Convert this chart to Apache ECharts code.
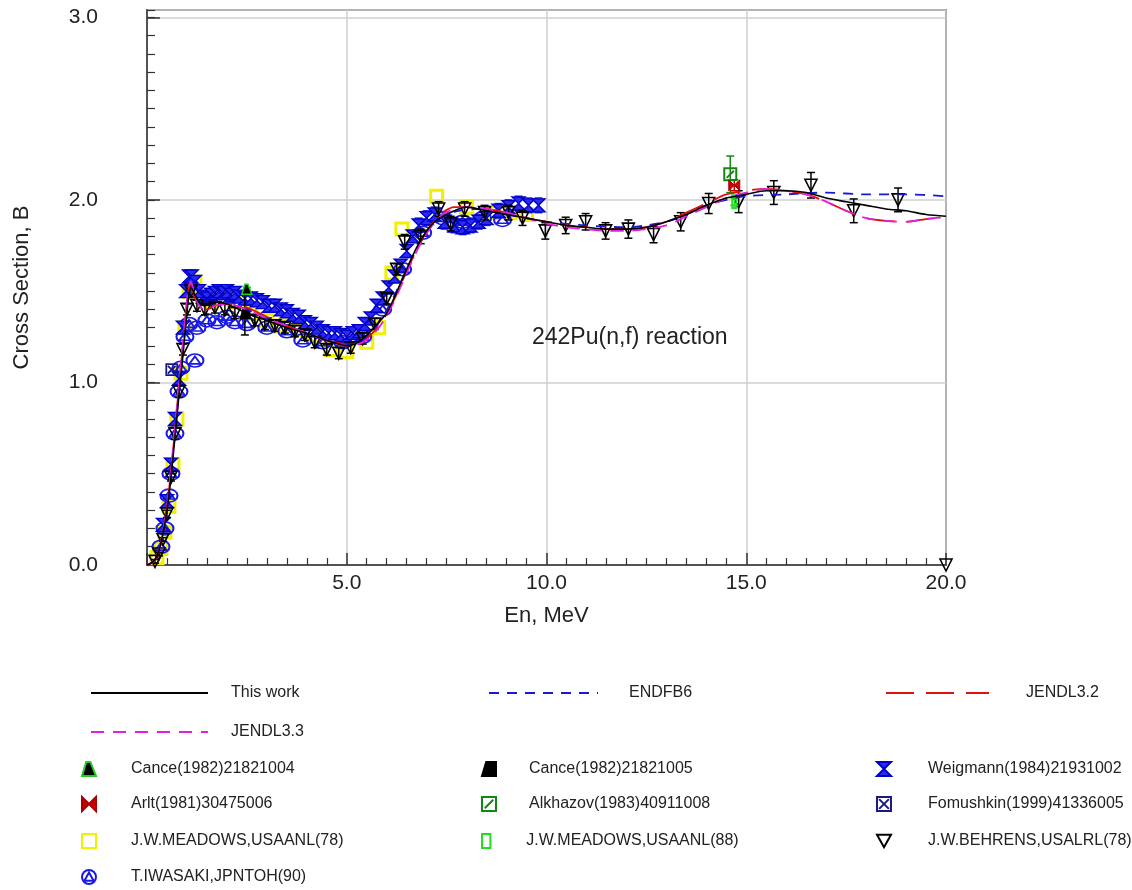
<!DOCTYPE html>
<html><head><meta charset="utf-8">
<script src="https://cdn.jsdelivr.net/npm/echarts/dist/echarts.min.js"></script>
<style>html,body{margin:0;padding:0;background:#fff}#c{width:1132px;height:890px}</style>
</head><body><div id="c"></div><script>
const F = 'Liberation Sans, Arial, sans-serif';
// Evaluated curves
const thisWorkE  = [0,0.1,0.2,0.3,0.4,0.5,0.6,0.7,0.8,0.9,1.0,1.05,1.1,1.2,1.3,1.45,1.6,1.8,2.0,2.3,2.6,3.0,3.5,4.0,4.5,4.8,5.0,5.2,5.4,5.6,5.8,6.0,6.2,6.4,6.6,6.8,7.0,7.2,7.5,7.8,8.0,8.5,9.0,9.5,10,10.5,11,11.5,12,12.5,13,13.5,14,14.5,15,15.5,16,16.5,17,17.5,18,18.5,19,19.5,20];
const thisWorkXS = [0,0.01,0.03,0.08,0.17,0.30,0.48,0.70,0.93,1.15,1.38,1.48,1.52,1.48,1.44,1.42,1.43,1.44,1.43,1.40,1.37,1.34,1.30,1.27,1.23,1.21,1.20,1.21,1.24,1.28,1.33,1.38,1.47,1.57,1.67,1.76,1.83,1.88,1.92,1.95,1.96,1.94,1.92,1.90,1.88,1.86,1.85,1.84,1.84,1.85,1.88,1.92,1.97,2.01,2.03,2.05,2.05,2.04,2.01,1.99,1.97,1.95,1.94,1.92,1.91];
const endfb6E  = [0,0.1,0.2,0.3,0.4,0.5,0.6,0.7,0.8,0.9,1.0,1.1,1.2,1.35,1.5,1.7,2.0,2.5,3.0,3.5,4.0,4.5,5.0,5.3,5.6,5.9,6.2,6.5,6.8,7.1,7.4,7.8,8.2,8.6,9.0,9.5,10,11,12,12.5,13,13.5,14,14.5,15,16,17,18,19,20];
const endfb6XS = [0,0.01,0.03,0.08,0.17,0.31,0.50,0.72,0.95,1.18,1.40,1.50,1.48,1.43,1.42,1.44,1.44,1.40,1.35,1.31,1.27,1.23,1.21,1.22,1.27,1.36,1.48,1.62,1.75,1.85,1.91,1.94,1.95,1.94,1.92,1.90,1.88,1.86,1.85,1.86,1.88,1.92,1.97,2.00,2.02,2.03,2.04,2.03,2.03,2.02];
const jendl33E  = [0,0.1,0.2,0.3,0.4,0.5,0.6,0.7,0.8,0.9,1.0,1.05,1.1,1.2,1.35,1.5,1.7,2.0,2.5,3.0,3.5,4.0,4.5,5.0,5.3,5.6,5.9,6.2,6.5,6.8,7.1,7.4,7.7,8.0,8.5,9.0,9.5,10,10.5,11,11.5,12,12.5,13,13.5,14,14.5,15,15.5,16,16.5,17,17.5,18,18.5,19,19.5,20];
const jendl33XS = [0,0.01,0.03,0.08,0.18,0.32,0.52,0.75,0.99,1.22,1.45,1.53,1.55,1.47,1.41,1.40,1.42,1.43,1.40,1.35,1.31,1.27,1.23,1.20,1.21,1.25,1.33,1.45,1.60,1.74,1.85,1.92,1.95,1.96,1.95,1.93,1.90,1.87,1.85,1.84,1.83,1.83,1.84,1.86,1.91,1.96,2.01,2.04,2.06,2.05,2.03,1.99,1.94,1.90,1.885,1.88,1.895,1.905];
const jendl32E  = [0,0.1,0.2,0.3,0.4,0.5,0.6,0.7,0.8,0.9,1.0,1.05,1.1,1.2,1.35,1.5,1.7,2.0,2.5,3.0,3.5,4.0,4.5,5.0,5.3,5.6,5.9,6.2,6.5,6.8,7.1,7.4,7.7,8.0,8.5,9.0,9.5,10,10.5,11,11.5,12,12.5,13,13.5,14,14.5,15,15.5,16,16.5,17,17.5,18,18.5,19,19.5,20];
const jendl32XS = [0,0.01,0.03,0.08,0.18,0.32,0.51,0.74,0.98,1.21,1.44,1.52,1.54,1.46,1.41,1.40,1.42,1.43,1.41,1.36,1.31,1.27,1.23,1.21,1.21,1.26,1.34,1.46,1.61,1.75,1.86,1.93,1.96,1.96,1.95,1.93,1.90,1.88,1.86,1.85,1.84,1.84,1.85,1.88,1.93,1.98,2.03,2.05,2.06,2.05,2.03,1.99,1.94,1.90,1.885,1.88,1.895,1.905];

// Experimental data: [E (MeV), sigma (b), error (b)]
const cance1004 = [[2.5,1.51,0.01]];
const cance1005 = [[2.45,1.375,0.115]];
const weigmann = [[0.40,0.22,0.02],[0.50,0.35,0.02],[0.60,0.55,0.02],[0.70,0.80,0.03],[0.80,1.02,0.03],[0.90,1.30,0.03],[0.98,1.50,0.03],[1.05,1.58,0.03],[1.12,1.58,0.03],[1.20,1.55,0.03],[1.30,1.50,0.03],[1.40,1.47,0.03],[1.50,1.46,0.03],[1.60,1.48,0.03],[1.70,1.49,0.03],[1.80,1.50,0.03],[1.90,1.49,0.03],[2.00,1.50,0.03],[2.10,1.48,0.03],[2.20,1.49,0.03],[2.30,1.47,0.03],[2.45,1.46,0.03],[2.60,1.46,0.03],[2.75,1.45,0.03],[2.90,1.44,0.03],[3.05,1.42,0.03],[3.20,1.42,0.03],[3.35,1.40,0.03],[3.50,1.39,0.03],[3.65,1.37,0.03],[3.80,1.36,0.03],[3.95,1.33,0.03],[4.10,1.32,0.03],[4.25,1.30,0.03],[4.40,1.28,0.03],[4.55,1.27,0.03],[4.70,1.27,0.03],[4.85,1.26,0.03],[5.00,1.25,0.03],[5.15,1.27,0.03],[5.30,1.28,0.03],[5.45,1.32,0.03],[5.60,1.35,0.03],[5.75,1.42,0.03],[5.90,1.46,0.03],[6.05,1.52,0.03],[6.20,1.58,0.03],[6.35,1.64,0.03],[6.50,1.72,0.03],[6.65,1.80,0.03],[6.80,1.86,0.04],[7.00,1.90,0.04],[7.20,1.92,0.04],[7.45,1.88,0.04],[7.70,1.86,0.04],[7.90,1.85,0.04],[8.10,1.86,0.04],[8.30,1.88,0.04],[8.50,1.90,0.04],[8.80,1.94,0.04],[9.05,1.96,0.04],[9.30,1.98,0.04],[9.55,1.97,0.04],[9.80,1.97,0.04]];
const arlt = [[14.7,2.08,0.03]];
const alkhazov = [[14.6,2.14,0.10]];
const fomushkin = [[0.62,1.07,0]];
const meadows78 = [[0.25,0.04,0],[0.35,0.09,0],[0.45,0.18,0],[0.55,0.32,0],[0.65,0.55,0],[0.75,0.80,0],[0.85,1.05,0],[0.95,1.30,0],[1.05,1.50,0],[1.20,1.55,0],[1.40,1.46,0],[1.60,1.44,0],[1.90,1.46,0],[2.20,1.44,0],[2.60,1.38,0],[3.00,1.34,0],[3.40,1.31,0],[3.80,1.29,0],[4.20,1.26,0],[4.60,1.18,0],[5.00,1.17,0],[5.50,1.22,0],[5.80,1.30,0],[6.13,1.60,0],[6.38,1.84,0],[7.25,2.02,0],[8.00,1.96,0],[8.60,1.93,0],[9.10,1.93,0],[9.50,1.92,0]];
const meadows88 = [[14.7,1.99,0.02]];
const behrens = [[0.20,0.02,0.01],[0.30,0.06,0.01],[0.40,0.14,0.01],[0.50,0.28,0.02],[0.60,0.48,0.02],[0.70,0.72,0.03],[0.80,0.95,0.03],[0.90,1.18,0.03],[1.00,1.40,0.03],[1.10,1.50,0.03],[1.25,1.42,0.03],[1.45,1.40,0.03],[1.70,1.41,0.03],[1.95,1.40,0.03],[2.20,1.38,0.03],[2.70,1.34,0.03],[2.95,1.32,0.03],[3.20,1.31,0.03],[3.45,1.30,0.03],[3.70,1.28,0.03],[3.95,1.26,0.03],[4.20,1.22,0.03],[4.50,1.18,0.03],[4.80,1.16,0.03],[5.10,1.19,0.03],[5.40,1.24,0.03],[5.70,1.32,0.03],[6.00,1.46,0.03],[6.25,1.62,0.03],[6.45,1.77,0.04],[6.85,1.80,0.04],[7.30,1.95,0.04],[7.60,1.87,0.04],[7.95,1.95,0.04],[8.45,1.93,0.04],[9.05,1.93,0.04],[9.40,1.90,0.04],[9.97,1.83,0.045],[10.48,1.86,0.045],[10.98,1.88,0.045],[11.48,1.83,0.045],[12.05,1.84,0.05],[12.68,1.81,0.045],[13.36,1.88,0.05],[14.06,1.98,0.055],[14.81,1.99,0.06],[15.69,2.04,0.065],[16.62,2.08,0.07],[17.69,1.94,0.065],[18.80,2.00,0.065],[20.0,0.0,0]];
const iwasaki = [[0.35,0.10,0],[0.45,0.20,0],[0.55,0.38,0],[0.60,0.50,0],[0.70,0.72,0],[0.80,0.95,0],[0.85,1.08,0],[0.95,1.25,0],[1.05,1.32,0],[1.20,1.12,0],[1.25,1.30,0],[1.50,1.34,0],[1.75,1.33,0],[2.00,1.36,0],[2.20,1.33,0],[2.50,1.32,0],[3.00,1.30,0],[3.50,1.28,0],[3.90,1.23,0],[4.40,1.22,0],[4.90,1.22,0],[5.40,1.25,0],[5.90,1.40,0],[6.40,1.62,0],[6.90,1.82,0],[7.40,1.90,0],[7.90,1.88,0],[8.40,1.90,0],[8.90,1.89,0]];

const zip = (a, b) => a.map((v, i) => [v, b[i]]);
const pts = d => d.map(r => [r[0], r[1]]);
const errs = d => d.filter(r => r[2] > 0).map(r => [r[0], r[1] - r[2], r[1] + r[2]]);

function errSeries(data, color, z) {
  return {
    type: 'custom', name: '_err', data: errs(data), z: z, clip: true,
    encode: { x: 0, y: [1, 2] },
    renderItem: function (params, api) {
      const x = api.value(0), lo = api.value(1), hi = api.value(2);
      const a = api.coord([x, hi]), b = api.coord([x, lo]), c = 4;
      const st = { stroke: color, lineWidth: 1.5 };
      return { type: 'group', children: [
        { type: 'line', shape: { x1: a[0], y1: a[1], x2: b[0], y2: b[1] }, style: st },
        { type: 'line', shape: { x1: a[0] - c, y1: a[1], x2: a[0] + c, y2: a[1] }, style: st },
        { type: 'line', shape: { x1: b[0] - c, y1: b[1], x2: b[0] + c, y2: b[1] }, style: st }
      ]};
    }
  };
}
function sc(name, data, symbol, size, fill, border, bw, z, extra) {
  return Object.assign({
    type: 'scatter', name: name, data: pts(data), symbol: symbol, symbolSize: size, z: z,
    itemStyle: { color: fill, borderColor: border, borderWidth: bw, opacity: 1 }
  }, extra || {});
}
function ln(name, e, xs, color, type, width, z) {
  return { type: 'line', name: name, data: zip(e, xs), symbol: 'none', smooth: 0.3, z: z,
    lineStyle: { color: color, type: type, width: width },
    itemStyle: { color: 'rgba(0,0,0,0)', borderColor: 'rgba(0,0,0,0)', borderWidth: 0 } };
}

const SYM = {
  c1004: 'path://M0,10 L3,0 L6,0 L10,10 Z',
  c1005: 'path://M3,0 L10,0 L10,10 L0,10 Z',
  weig: 'path://M0,0 L10,0 L0,10 L10,10 Z',
  arlt: 'path://M0,0 L10,10 L10,0 L0,10 Z',
  alk: 'path://M0,0 L10,0 L10,10 L0,10 Z M2,8 L8,2',
  fom: 'path://M0,0 L10,0 L10,10 L0,10 Z M1.5,1.5 L8.5,8.5 M8.5,1.5 L1.5,8.5',
  m78: 'rect',
  m88: 'path://M0,0 L6,0 L6,10 L0,10 Z',
  beh: 'path://M0,0 L10,0 L5,9 Z',
  iwa: 'path://M0,5 A5,5 0 1,1 10,5 A5,5 0 1,1 0,5 Z M5,1.8 L8.3,7.6 L1.7,7.6 Z'
};

const series = [
  sc('J.W.MEADOWS,USAANL(78)', meadows78, SYM.m78, 12, 'rgba(255,255,255,0)', '#f0f000', 3, 2),
  sc('T.IWASAKI,JPNTOH(90)', iwasaki, SYM.iwa, [17, 13], 'rgba(255,255,255,0)', '#1a1ae6', 1.8, 3),
  errSeries(weigmann, '#1a1ae6', 4),
  sc('Weigmann(1984)21931002', weigmann, SYM.weig, 13, '#2a2af0', '#0000c8', 1.4, 4),
  errSeries(behrens, '#000', 5),
  sc('J.W.BEHRENS,USALRL(78)', behrens, SYM.beh, 12, 'rgba(255,255,255,0)', '#000', 1.6, 5),
  errSeries(cance1005, '#000', 6),
  sc('Cance(1982)21821005', cance1005, SYM.c1005, 10, '#000', '#000', 1, 6),
  errSeries(cance1004, '#22bb22', 6),
  sc('Cance(1982)21821004', cance1004, SYM.c1004, 10, '#000', '#22cc22', 1.5, 6),
  errSeries(alkhazov, '#118811', 6),
  sc('Alkhazov(1983)40911008', alkhazov, SYM.alk, 12, 'rgba(255,255,255,0)', '#118811', 2, 6),
  errSeries(arlt, '#cc0000', 6),
  sc('Arlt(1981)30475006', arlt, SYM.arlt, 11, '#cc0000', '#aa0000', 1, 7),
  errSeries(meadows88, '#22dd22', 6),
  sc('J.W.MEADOWS,USAANL(88)', meadows88, SYM.m88, [7, 12], 'rgba(255,255,255,0)', '#22dd22', 2.2, 7, { symbolKeepAspect: true }),
  sc('Fomushkin(1999)41336005', fomushkin, SYM.fom, 11, 'rgba(255,255,255,0)', '#1a1a80', 1.8, 7),
  ln('ENDFB6', endfb6E, endfb6XS, '#1a1ad0', [10, 8], 1.8, 10),
  ln('JENDL3.2', jendl32E, jendl32XS, '#e01010', [28, 12], 1.8, 11),
  ln('JENDL3.3', jendl33E, jendl33XS, '#e020e0', [13, 9], 1.8, 12),
  ln('This work', thisWorkE, thisWorkXS, '#000', 'solid', 1.6, 13)
];

// one legend block per entry: [name, left, top, iconWidth, textPad]
function lg1(name, left, top, iw, pad) {
  return {
    data: [name], left: left, top: top, orient: 'vertical', itemWidth: iw, itemHeight: 14,
    selectedMode: false, padding: 0,
    textStyle: { fontSize: 16, lineHeight: 14, fontFamily: F, color: '#222', padding: [0, 0, 0, pad] }
  };
}
const legendRows = [
  ['This work', 90, 685, 117, 18], ['JENDL3.3', 90, 724, 117, 18],
  ['ENDFB6', 488, 685, 109, 26], ['JENDL3.2', 885, 685, 103, 32],
  ['Cance(1982)21821004', 81, 761, 14, 30], ['Arlt(1981)30475006', 81, 796, 14, 30],
  ['J.W.MEADOWS,USAANL(78)', 81, 833, 14, 30], ['T.IWASAKI,JPNTOH(90)', 81, 869, 14, 30],
  ['Cance(1982)21821005', 481, 761, 14, 28], ['Alkhazov(1983)40911008', 481, 796, 14, 28],
  ['J.W.MEADOWS,USAANL(88)', 481, 833, 14, 28],
  ['Weigmann(1984)21931002', 876, 761, 14, 32], ['Fomushkin(1999)41336005', 876, 796, 14, 32],
  ['J.W.BEHRENS,USALRL(78)', 876, 833, 14, 32]
];

const chart = echarts.init(document.getElementById('c'), null, { renderer: 'canvas' });
chart.setOption({
  animation: false,
  backgroundColor: '#fff',
  title: { text: '242Pu(n,f) reaction', left: 527, top: 321,
    textStyle: { fontSize: 23, fontWeight: 'normal', fontFamily: F, color: '#222' } },
  grid: { left: 147, right: 186, top: 10, bottom: 325, show: true, borderColor: '#333', borderWidth: 1.5, backgroundColor: 'transparent' },
  legend: legendRows.map(r => lg1(r[0], r[1], r[2], r[3], r[4])),
  xAxis: {
    type: 'value', min: 0, max: 20, interval: 5,
    name: 'En, MeV', nameLocation: 'middle', nameGap: 40,
    nameTextStyle: { fontSize: 22, fontFamily: F, color: '#222' },
    axisLine: { lineStyle: { color: '#333', width: 1.5 } },
    axisTick: { inside: true, length: 12, lineStyle: { color: '#333', width: 1.5 } },
    minorTick: { show: true, splitNumber: 10, length: 7, lineStyle: { color: '#333', width: 1.2 } },
    axisLabel: { fontSize: 21, fontFamily: F, color: '#222', margin: 8,
      formatter: v => v === 0 ? '' : v.toFixed(1) },
    splitLine: { show: true, lineStyle: { color: '#cfcfcf', width: 1.5 } }
  },
  yAxis: [{
    type: 'value', min: 0, max: 3.04, interval: 1,
    name: 'Cross Section, B', nameLocation: 'middle', nameGap: 114,
    nameTextStyle: { fontSize: 22, fontFamily: F, color: '#222' },
    axisLine: { show: true, lineStyle: { color: '#333', width: 1.5 } },
    axisTick: { inside: true, length: 13, lineStyle: { color: '#333', width: 1.5 } },
    axisLabel: { fontSize: 21, fontFamily: F, color: '#222', margin: 49, showMaxLabel: false,
      formatter: v => (Math.abs(v - Math.round(v)) < 1e-6 ? v.toFixed(1) : '') },
    splitLine: { show: true, lineStyle: { color: '#cfcfcf', width: 1.5 } }
  }, {
    type: 'value', min: 0, max: 3.04, interval: 0.1, position: 'left',
    axisLine: { show: false },
    axisTick: { inside: true, length: 8, lineStyle: { color: '#333', width: 1.2 } },
    axisLabel: { show: false }, splitLine: { show: false }
  }],
  series: series
});
</script></body></html>
